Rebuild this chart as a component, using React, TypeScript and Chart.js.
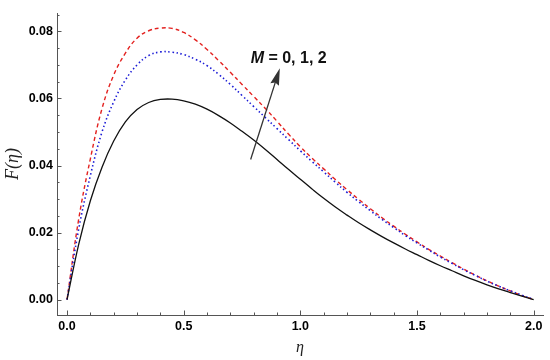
import React, { useEffect, useRef } from "react";
import { Chart, registerables } from "chart.js";

Chart.register(...registerables);

const etas = [0, 0.05, 0.1, 0.15, 0.2, 0.25, 0.3, 0.35, 0.4, 0.45, 0.5, 0.55, 0.6, 0.65, 0.7, 0.75, 0.8, 0.85, 0.9, 0.95, 1.0, 1.05, 1.1, 1.15, 1.2, 1.25, 1.3, 1.35, 1.4, 1.45, 1.5, 1.55, 1.6, 1.65, 1.7, 1.75, 1.8, 1.85, 1.9, 1.95, 2.0];
const fM0 = [0, 0.0165, 0.0295, 0.0395, 0.0473, 0.053, 0.0567, 0.0588, 0.0597, 0.0598, 0.0593, 0.0583, 0.0568, 0.0549, 0.0527, 0.0502, 0.0476, 0.0448, 0.0418, 0.0388, 0.0359, 0.033, 0.0302, 0.0276, 0.0252, 0.0229, 0.0208, 0.0188, 0.0169, 0.0151, 0.0134, 0.0117, 0.0101, 0.0086, 0.0071, 0.0057, 0.0044, 0.0032, 0.0021, 0.001, 0];
const fM1 = [0, 0.021, 0.037, 0.05, 0.059, 0.0655, 0.07, 0.0728, 0.0739, 0.0738, 0.0731, 0.0717, 0.0698, 0.0672, 0.0642, 0.0609, 0.0576, 0.0543, 0.051, 0.0477, 0.0444, 0.0412, 0.0381, 0.035, 0.032, 0.0292, 0.0265, 0.0239, 0.0215, 0.0191, 0.0169, 0.0148, 0.0127, 0.0108, 0.0089, 0.0072, 0.0055, 0.004, 0.0026, 0.0013, 0];
const fM2 = [0, 0.024, 0.042, 0.057, 0.067, 0.0735, 0.078, 0.0802, 0.081, 0.0809, 0.0797, 0.0775, 0.0746, 0.0713, 0.0678, 0.0642, 0.0606, 0.057, 0.0532, 0.0493, 0.0456, 0.0422, 0.039, 0.0358, 0.0328, 0.0299, 0.0271, 0.0244, 0.0219, 0.0195, 0.0172, 0.015, 0.013, 0.011, 0.0091, 0.0073, 0.0056, 0.004, 0.0026, 0.0012, 0];

const xTicks = [0, 0.5, 1.0, 1.5, 2.0];
const yTicks = [0, 0.02, 0.04, 0.06, 0.08];
const xMinor = [0.1, 0.2, 0.3, 0.4, 0.6, 0.7, 0.8, 0.9, 1.1, 1.2, 1.3, 1.4, 1.6, 1.7, 1.8, 1.9];
const yMinor = [0.005, 0.01, 0.015, 0.025, 0.03, 0.035, 0.045, 0.05, 0.055, 0.065, 0.07, 0.075, 0.085];

const labelText = "M = 0, 1, 2";
const arrowTail = { x: 0.787, y: 0.0418 };
const arrowHead = { x: 0.912, y: 0.069 };
const labelAt = { x: 0.787, y: 0.0705 };

const AXIS_COLOR = "#555555";

const overlayPlugin = {
  id: "overlay",
  afterDraw(chart: any) {
    const ctx = chart.ctx;
    const xs = chart.scales.x;
    const ys = chart.scales.y;
    const area = chart.chartArea;
    ctx.save();
    ctx.strokeStyle = AXIS_COLOR;
    ctx.lineWidth = 1;
    const drawX = (v: number, len: number) => {
      const px = Math.round(xs.getPixelForValue(v)) + 0.5;
      ctx.beginPath();
      ctx.moveTo(px, area.bottom);
      ctx.lineTo(px, area.bottom - len);
      ctx.stroke();
    };
    const drawY = (v: number, len: number) => {
      const py = Math.round(ys.getPixelForValue(v)) + 0.5;
      ctx.beginPath();
      ctx.moveTo(area.left, py);
      ctx.lineTo(area.left + len, py);
      ctx.stroke();
    };
    xTicks.forEach((v) => drawX(v, 4.5));
    xMinor.forEach((v) => drawX(v, 2.5));
    yTicks.forEach((v) => drawY(v, 4.5));
    yMinor.forEach((v) => drawY(v, 2.5));

    const tx = xs.getPixelForValue(arrowTail.x);
    const ty = ys.getPixelForValue(arrowTail.y);
    const hx = xs.getPixelForValue(arrowHead.x);
    const hy = ys.getPixelForValue(arrowHead.y);
    const ang = Math.atan2(hy - ty, hx - tx);
    const headLen = 17;
    const headW = 4.5;
    const bx = hx - headLen * Math.cos(ang);
    const by = hy - headLen * Math.sin(ang);
    ctx.strokeStyle = "#333333";
    ctx.fillStyle = "#333333";
    ctx.lineWidth = 1.3;
    ctx.beginPath();
    ctx.moveTo(tx, ty);
    ctx.lineTo(bx + 3 * Math.cos(ang), by + 3 * Math.sin(ang));
    ctx.stroke();
    ctx.beginPath();
    ctx.moveTo(hx, hy);
    ctx.lineTo(bx + headW * Math.sin(ang), by - headW * Math.cos(ang));
    ctx.lineTo(bx + 2 * Math.cos(ang), by + 2 * Math.sin(ang));
    ctx.lineTo(bx - headW * Math.sin(ang), by + headW * Math.cos(ang));
    ctx.closePath();
    ctx.fill();

    const lx = xs.getPixelForValue(labelAt.x);
    const ly = ys.getPixelForValue(labelAt.y);
    ctx.fillStyle = "#111111";
    ctx.textBaseline = "alphabetic";
    ctx.textAlign = "left";
    const first = labelText.slice(0, 1);
    const rest = labelText.slice(1);
    ctx.font = "italic bold 16px 'Liberation Sans', Arial, sans-serif";
    ctx.fillText(first, lx, ly);
    const w = ctx.measureText(first).width;
    ctx.font = "bold 16px 'Liberation Sans', Arial, sans-serif";
    ctx.fillText(rest, lx + w, ly);
    ctx.restore();
  },
};

export default function App() {
  const ref = useRef<HTMLCanvasElement | null>(null);
  useEffect(() => {
    if (!ref.current) return;
    const mk = (vals: number[]) => etas.map((x, i) => ({ x, y: vals[i] }));
    const tickFont = { family: "'Liberation Sans', Arial, sans-serif", size: 12.5, weight: "bold" as const };
    const common = { pointRadius: 0, tension: 0.4, cubicInterpolationMode: "default" as const, fill: false };
    const chart = new Chart(ref.current, {
      type: "line",
      data: {
        datasets: [
          { label: "M=0", data: mk(fM0), borderColor: "#111111", borderWidth: 1.3, ...common },
          { label: "M=1", data: mk(fM1), borderColor: "#1c1cd6", borderWidth: 1.6, borderDash: [1.5, 2.6], ...common },
          { label: "M=2", data: mk(fM2), borderColor: "#e3211f", borderWidth: 1.4, borderDash: [4, 3], ...common },
        ],
      },
      options: {
        animation: false,
        responsive: false,
        events: [],
        layout: { padding: { left: 0, top: 13, right: 7, bottom: 0 } },
        plugins: { legend: { display: false }, tooltip: { enabled: false } },
        scales: {
          x: {
            type: "linear",
            min: -0.043,
            max: 2.04,
            afterBuildTicks: (s: any) => { s.ticks = xTicks.map((v) => ({ value: v })); },
            afterFit: (s: any) => { s.height = 45; },
            grid: { display: false, drawTicks: false },
            border: { display: true, color: AXIS_COLOR, width: 1 },
            ticks: { color: "#000", font: tickFont, padding: 4, maxRotation: 0, callback: (v: any) => Number(v).toFixed(1) },
            title: { display: true, text: "η", color: "#222", font: { family: "'Liberation Serif', 'Times New Roman', serif", size: 16, style: "italic" }, padding: { top: 0, bottom: 2.4 } },
          },
          y: {
            type: "linear",
            min: -0.0046,
            max: 0.0855,
            afterBuildTicks: (s: any) => { s.ticks = yTicks.map((v) => ({ value: v })); },
            afterFit: (s: any) => { s.width = 57; },
            grid: { display: false, drawTicks: false },
            border: { display: true, color: AXIS_COLOR, width: 1 },
            ticks: { color: "#000", font: tickFont, padding: 4, callback: (v: any) => Number(v).toFixed(2) },
            title: { display: true, text: "F(η)", color: "#222", font: { family: "'Liberation Serif', 'Times New Roman', serif", size: 18, style: "italic" }, padding: { top: 2.7, bottom: 0 } },
          },
        },
      },
      plugins: [overlayPlugin],
    });
    return () => chart.destroy();
  }, []);
  return (
    <div style={{ position: "fixed", left: 0, top: 0, width: 550, height: 360, background: "#fff" }}>
      <canvas ref={ref} width={550} height={360} style={{ width: 550, height: 360, display: "block" }} />
    </div>
  );
}
